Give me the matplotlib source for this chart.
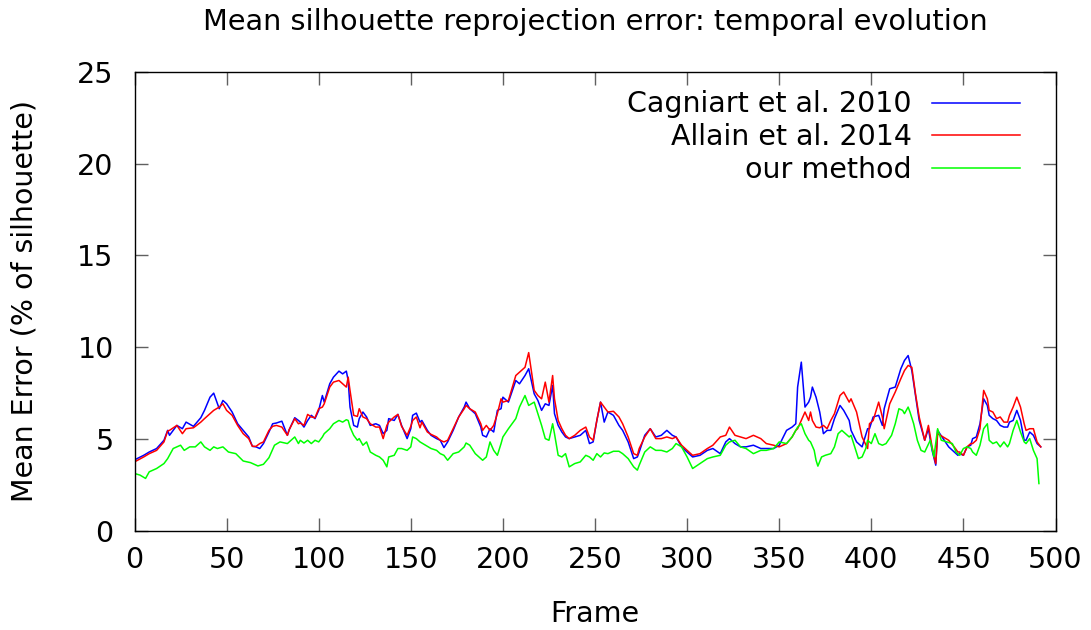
import matplotlib
matplotlib.use("Agg")
import matplotlib.pyplot as plt

title = "Mean silhouette reprojection error: temporal evolution"
xlabel = "Frame"
ylabel = "Mean Error (% of silhouette)"
series_names = ["Cagniart et al. 2010", "Allain et al. 2014", "our method"]
xticks = [0, 50, 100, 150, 200, 250, 300, 350, 400, 450, 500]
yticks = [0, 5, 10, 15, 20, 25]

frames = [0, 5, 8, 12, 16, 18, 19, 23, 26, 28, 32, 36, 38, 41, 43, 46, 48, 50, 53, 56,
          59, 62, 64, 66, 68, 70, 73, 75, 77, 80, 83, 84, 87, 89,
          90, 92, 94, 96, 98, 100, 102, 103, 106, 108, 111, 113, 115, 116, 117, 119, 121, 122,
          124, 126, 128, 131, 133, 135, 137, 138, 141, 143, 145, 148, 150, 151, 153, 155, 156,
          159, 161, 164, 166, 168, 170, 173, 176, 179, 180,
          182, 185, 188, 189, 191, 193, 195, 197, 199, 200, 203, 207, 209, 212, 214, 217, 219,
          221, 223, 225, 227, 228, 230, 232, 234, 236, 239, 242, 245, 247, 249, 251, 253, 255,
          257, 260, 263, 265, 268, 271, 273,
          274, 277, 280, 283, 286, 289, 292, 294, 297, 300, 303, 307, 311, 314, 318, 321, 323,
          326, 329, 332, 336, 340, 343, 347, 350, 354, 357, 359, 360, 362, 364, 366,
          367, 368, 370, 372, 374, 376, 378, 380, 383, 385, 388, 389, 392, 395, 398, 399, 401,
          404, 406, 407, 410, 413, 416, 418, 420, 422, 424, 426, 429, 431, 433, 435, 436, 439,
          442, 445, 447,
          448, 450, 452, 454, 455, 457, 459, 461, 463, 464, 466, 468, 470, 472, 474, 475, 477,
          479, 481, 483, 484, 486, 488, 490, 492]

cagniart = [3.85, 4.1, 4.28, 4.47, 4.92, 5.46, 5.19, 5.73, 5.55, 5.91, 5.68, 6.15, 6.55, 7.27, 7.49,
            6.64, 7.09, 6.91, 6.46, 5.82, 5.46, 5.1, 4.59, 4.56, 4.47, 4.74, 5.37, 5.82, 5.86, 5.96,
            5.19, 5.5, 6.15, 6.0,
            5.91, 5.64, 6.0, 6.28, 6.1, 6.55, 7.36, 7.0, 8.0, 8.36, 8.69, 8.54, 8.69, 8.18, 6.73,
            5.73, 5.64, 6.1, 6.46, 6.19, 5.73, 5.82, 5.73, 5.28, 5.46, 6.1, 6.0, 6.33, 5.73, 5.01,
            5.55, 6.28, 6.4, 5.91, 6.0, 5.46, 5.19, 5.01, 4.92, 4.52, 4.83, 5.46, 6.19, 6.73, 7.0,
            6.64, 6.37, 5.64, 5.19, 5.1, 5.55, 5.37, 6.55, 6.64, 7.27, 7.0, 8.18, 8.0, 8.45, 8.82,
            7.45, 7.09, 6.55, 6.91, 6.82, 7.91, 6.37, 5.73, 5.37, 5.1, 5.01, 5.1, 5.19, 5.46, 4.74,
            4.83, 6.0, 7.0, 5.91, 6.46, 6.28, 5.73, 5.46, 4.83, 3.92, 4.01,
            4.28, 5.19, 5.55, 5.1, 5.19, 5.46, 5.19, 5.1, 4.56, 4.28, 4.01, 4.1, 4.37, 4.47, 4.19,
            4.83, 5.01, 4.74, 4.56, 4.56, 4.65, 4.47, 4.47, 4.47, 4.65, 5.46, 5.64, 5.82, 7.82, 9.18,
            6.73, 7.0,
            7.27, 7.82, 7.27, 6.46, 5.28, 5.46, 5.46, 6.1, 6.82, 6.55, 6.0, 5.46, 4.83, 4.56, 5.55,
            5.55, 6.19, 6.28, 5.73, 6.64, 7.73, 7.82, 8.81, 9.27, 9.54, 8.72, 7.36, 6.0, 4.92, 5.55,
            4.37, 3.56, 5.46, 5.01, 4.56, 4.28, 4.1,
            4.19, 4.1, 4.56, 4.65, 5.01, 5.1, 5.82, 7.18, 6.82, 6.28, 6.1, 6.0, 5.73, 5.64, 5.64,
            5.91, 6.0, 6.55, 6.0, 4.92, 4.92, 5.37, 5.19, 4.74, 4.56]

allain = [3.74, 4.01, 4.19, 4.37, 4.83, 5.43, 5.46, 5.73, 5.28, 5.55, 5.6, 5.91, 6.1, 6.37, 6.55,
          6.73, 6.91, 6.55, 6.28, 5.73, 5.28, 5.01, 4.59, 4.59, 4.74, 4.83, 5.46, 5.68, 5.73, 5.64,
          5.19, 5.5, 6.1, 5.82,
          5.86, 5.73, 6.33, 6.19, 6.15, 6.64, 6.73, 6.91, 7.82, 8.09, 8.18, 8.0, 7.82, 8.36, 7.64,
          6.28, 6.22, 6.64, 6.19, 6.1, 5.82, 5.64, 5.64, 5.01, 5.73, 5.91, 6.19, 6.33, 5.68, 5.19,
          5.68, 6.0, 6.19, 5.6, 5.91, 5.37, 5.24, 5.1, 4.92, 4.83, 4.92, 5.55, 6.19, 6.64, 6.82,
          6.64, 6.46, 5.82, 5.46, 5.73, 5.46, 5.73, 6.37, 7.18, 7.0, 7.09, 8.45, 8.63, 8.9, 9.7,
          7.64, 7.36, 7.18, 8.09, 7.0, 8.45, 7.18, 6.0, 5.55, 5.19, 5.01, 5.19, 5.46, 5.64, 5.1,
          4.92, 6.0, 7.0, 6.73, 6.46, 6.5, 6.19, 5.82, 5.1, 4.19, 4.1,
          4.47, 5.1, 5.55, 5.01, 5.01, 5.1, 5.01, 5.1, 4.65, 4.37, 4.1, 4.19, 4.47, 4.65, 5.1,
          5.19, 5.64, 5.19, 5.1, 5.01, 5.19, 5.01, 4.74, 4.65, 4.56, 4.74, 5.1, 5.46, 5.55, 6.0,
          6.46, 6.0,
          6.46, 6.0, 5.64, 5.6, 5.73, 5.55, 6.0, 6.37, 7.36, 7.55, 7.0, 7.18, 6.46, 5.1, 4.47,
          5.82, 6.0, 7.0, 6.19, 5.55, 6.91, 7.55, 8.27, 8.72, 9.0, 8.9, 7.45, 6.19, 4.92, 5.73,
          4.56, 3.65, 5.28, 5.1, 4.92, 4.56, 4.28,
          4.28, 4.1, 4.56, 4.74, 4.74, 4.92, 5.55, 7.64, 7.18, 6.55, 6.46, 6.1, 6.19, 5.91, 5.91,
          6.28, 6.73, 7.27, 6.73, 5.82, 5.46, 5.55, 5.55, 4.83, 4.56]

frames_ours = [0, 3, 6, 8, 12, 16, 18, 21, 25, 27, 30, 33, 36, 38, 41, 43, 45, 48, 51, 55,
               59, 63, 67, 70, 73, 76, 79, 83, 87, 89,
               90, 92, 94, 96, 98, 100, 102, 103, 106, 108, 111, 113, 115, 116, 117, 119, 121, 122,
               124, 126, 128, 131, 133, 135, 137, 138, 141, 143, 145, 148, 150, 151, 153, 155, 156,
               159, 161, 164, 166, 168, 170, 173, 176, 179, 180,
               182, 185, 188, 189, 191, 193, 195, 197, 199, 200, 203, 207, 209, 212, 214, 217, 219,
               221, 223, 225, 227, 228, 230, 232, 234, 236, 239, 242, 245, 247, 249, 251, 253, 255,
               257, 260, 263, 265, 268, 271, 273,
               274, 277, 280, 283, 286, 289, 292, 294, 297, 300, 303, 307, 311, 314, 318, 321, 323,
               326, 329, 332, 336, 340, 343, 347, 350, 354, 357, 359, 360, 362, 364, 366,
               367, 369, 370, 371, 373, 375, 378, 380, 382, 384, 386, 388, 389, 391, 393, 395, 397,
               398, 400, 402, 404, 406, 408, 411, 413, 415, 417, 418, 420, 421, 423, 425, 427, 429,
               432, 434, 436, 438, 441, 444, 446,
               448, 450, 452, 454, 455, 457, 459, 461, 463, 464, 466, 468, 470, 472, 474, 475, 477,
               479, 481, 483, 484, 486, 488, 490, 491]

ours = [3.11, 3.02, 2.84, 3.2, 3.38, 3.65, 3.92, 4.47, 4.65, 4.37, 4.56, 4.56, 4.83, 4.56, 4.37,
        4.56, 4.47, 4.56, 4.28, 4.19, 3.79, 3.7, 3.52, 3.61, 3.97, 4.65, 4.83, 4.74, 5.1, 4.74,
        4.92, 4.77, 4.92, 4.74, 4.92, 4.83, 5.1, 5.28, 5.55, 5.82, 6.0, 5.91, 6.04, 6.0, 5.64,
        5.19, 4.92, 5.01, 4.65, 4.83, 4.28, 4.1, 4.01, 3.83, 3.47, 4.01, 4.1, 4.47, 4.47, 4.37,
        4.56, 5.1, 5.01, 4.83, 4.77, 4.59, 4.47, 4.37, 4.19, 4.1, 3.83, 4.19, 4.28, 4.56, 4.77,
        4.65, 4.19, 3.92, 3.83, 4.01, 4.83, 4.37, 4.1, 4.74, 5.1, 5.55, 6.1, 6.73, 7.36, 6.82,
        7.0, 6.37, 5.73, 5.01, 4.92, 5.82, 5.28, 4.1, 4.01, 4.19, 3.47, 3.65, 3.74, 4.1, 4.01,
        3.83, 4.19, 4.01, 4.23, 4.19, 4.32, 4.32, 4.19, 3.92, 3.47, 3.29,
        3.56, 4.28, 4.56, 4.37, 4.37, 4.28, 4.47, 4.74, 4.56, 4.01, 3.38, 3.65, 3.92, 4.01, 4.1,
        4.65, 4.83, 4.92, 4.56, 4.47, 4.19, 4.37, 4.37, 4.47, 4.83, 4.74, 5.1, 5.46, 5.64, 5.82,
        5.28, 4.92,
        4.83, 4.37, 3.83, 3.51, 4.01, 4.1, 4.19, 4.56, 5.28, 5.46, 5.28, 5.1, 5.19, 4.56, 3.92,
        4.01, 4.47, 4.92, 4.74, 5.28, 4.74, 4.65, 4.74, 5.19, 5.82, 6.64, 6.55, 6.37, 6.73, 6.46,
        5.82, 4.92, 4.37, 4.28, 4.92, 4.01, 5.55, 4.92, 4.83, 4.74, 4.28,
        4.1, 4.47, 4.56, 4.47, 4.28, 4.1, 4.65, 5.55, 5.82, 4.92, 4.74, 4.83, 4.56, 4.83, 4.56,
        4.74, 5.46, 6.0, 5.37, 4.83, 4.74, 5.01, 4.37, 3.92, 2.56]

colors = ["#0000ff", "#ff0000", "#00ff00"]

plt.rcParams['font.family'] = ['DejaVu Sans']
FS = 20.5

W, H = 1091, 630
fig = plt.figure(figsize=(W / 100, H / 100), dpi=100)
L, R, T, B = 134.5, 1055.5, 72, 530.5
ax = fig.add_axes([L / W, 1 - B / H, (R - L) / W, (B - T) / H])

ax.plot(frames, cagniart, color=colors[0], lw=1.1, label=series_names[0])
ax.plot(frames, allain, color=colors[1], lw=1.1, label=series_names[1])
ax.plot(frames_ours, ours, color=colors[2], lw=1.1, label=series_names[2])

ax.set_xlim(0, 500)
ax.set_ylim(0, 25)
ax.set_xticks(xticks)
ax.set_yticks(yticks)
ax.tick_params(axis='both', which='major', direction='in', length=9.5, width=1.0,
               color='#606060', labelsize=FS, top=True, right=True)
ax.tick_params(axis='x', pad=11)
ax.tick_params(axis='y', pad=15)
for s in ax.spines.values():
    s.set_linewidth(1.0)
    s.set_color('black')

cx = (L + R) / 2 / W
fig.text(cx, 1 - 30 / H, title, ha='center', va='baseline', fontsize=20.7)
fig.text(cx, 1 - 622 / H, xlabel, ha='center', va='baseline', fontsize=FS)
fig.text(25 / W, 1 - ((T + B) / 2) / H, ylabel, ha='center', va='center',
         rotation=90, fontsize=FS)

leg = ax.legend(loc='upper right', bbox_to_anchor=((1020 - L) / (R - L), (B - 90.5) / (B - T)),
                frameon=False, fontsize=FS, markerfirst=False, handlelength=3.1,
                handletextpad=0.7, labelspacing=0.17, borderpad=0, borderaxespad=0)

fig.savefig("out.png", dpi=100)
